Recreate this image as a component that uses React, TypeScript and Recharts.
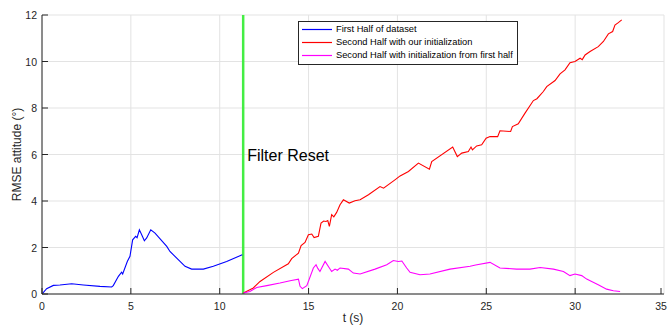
import React from "react";
import {
  LineChart,
  Line,
  XAxis,
  YAxis,
  CartesianGrid,
  ReferenceLine,
  Legend,
} from "recharts";

const xTicks = [0, 5, 10, 15, 20, 25, 30, 35];
const yTicks = [0, 2, 4, 6, 8, 10, 12];
const resetTime = 11.32;

// first half (blue)
const blueT = [0, 0.26, 0.64, 1.01, 1.67, 2.33, 3.26, 3.92, 4.01, 4.3, 4.48, 4.54, 4.8, 4.95, 5.1, 5.27, 5.35, 5.48, 5.61, 5.76, 5.89, 6.12, 6.36, 7.02, 7.2, 8.05, 8.42, 9.08, 9.64, 10.39, 11.27];
const blueV = [0, 0.23, 0.37, 0.39, 0.44, 0.39, 0.33, 0.3, 0.36, 0.76, 0.94, 0.86, 1.4, 1.62, 2.33, 2.48, 2.42, 2.76, 2.55, 2.29, 2.41, 2.76, 2.62, 2.05, 1.83, 1.19, 1.07, 1.07, 1.19, 1.4, 1.69];

// second half, our init (red)
const redT = [11.33, 11.61, 11.89, 12.27, 13.02, 13.86, 14.05, 14.43, 14.58, 14.8, 14.99, 15.18, 15.31, 15.55, 15.7, 15.85, 15.98, 16.08, 16.17, 16.3, 16.42, 16.58, 16.77, 16.96, 17.29, 17.61, 17.9, 18.37, 19.02, 19.22, 19.86, 20.15, 20.62, 21.18, 21.8, 21.93, 23.11, 23.37, 23.62, 23.99, 24.14, 24.22, 24.46, 24.74, 24.99, 25.21, 25.64, 25.77, 26.37, 26.47, 26.8, 27.18, 27.65, 27.85, 28.21, 28.4, 28.87, 29.15, 29.43, 29.71, 29.99, 30.28, 30.4, 30.56, 30.84, 31.3, 31.59, 31.87, 32.11, 32.24, 32.43, 32.62];
const redV = [0.04, 0.15, 0.26, 0.54, 0.93, 1.3, 1.52, 1.76, 2.08, 2.22, 2.55, 2.58, 2.43, 2.48, 3.05, 3.14, 3.12, 3.16, 2.91, 3.41, 3.32, 3.51, 3.84, 4.05, 3.91, 4.01, 4.05, 4.27, 4.62, 4.55, 4.91, 5.08, 5.27, 5.63, 5.37, 5.7, 6.32, 5.91, 6.06, 6.13, 6.32, 6.2, 6.37, 6.42, 6.7, 6.77, 6.77, 7.02, 6.99, 7.2, 7.32, 7.78, 8.32, 8.4, 8.71, 8.92, 9.18, 9.47, 9.64, 9.95, 10.0, 10.14, 10.08, 10.28, 10.43, 10.64, 10.86, 11.19, 11.29, 11.57, 11.67, 11.79];

// second half, init from first half (magenta)
const magT = [11.33, 11.7, 12.08, 12.65, 13.39, 13.96, 14.43, 14.52, 14.65, 14.9, 15.27, 15.42, 15.52, 15.64, 15.93, 16.17, 16.3, 16.49, 16.62, 16.77, 17.24, 17.52, 17.9, 18.74, 19.4, 19.77, 20.05, 20.25, 20.52, 20.71, 21.27, 21.83, 22.96, 24.09, 24.4, 25.21, 25.77, 26.71, 27.46, 28.03, 28.78, 29.34, 29.71, 29.99, 30.37, 30.65, 30.93, 31.3, 31.77, 32.15, 32.53];
const magV = [0.04, 0.11, 0.28, 0.36, 0.47, 0.57, 0.64, 0.33, 0.23, 0.36, 1.12, 1.26, 1.1, 0.97, 1.4, 1.12, 0.97, 1.07, 1.02, 1.12, 1.07, 0.9, 0.86, 1.07, 1.26, 1.44, 1.4, 1.42, 1.12, 0.93, 0.83, 0.86, 1.07, 1.19, 1.25, 1.36, 1.12, 1.07, 1.07, 1.14, 1.07, 0.97, 0.79, 0.86, 0.79, 0.64, 0.54, 0.4, 0.21, 0.14, 0.11];

const series = [
  { name: "First Half of dataset", color: "#0000ff", t: blueT, v: blueV },
  { name: "Second Half with our initialization", color: "#ff0000", t: redT, v: redV },
  { name: "Second Half with initialization from first half", color: "#ff00ff", t: magT, v: magV },
];

const FONT = "'Liberation Sans', Arial, Helvetica, sans-serif";
const AXIS = "#262626";

const XTick = ({ x, y, payload }: any) => (
  <g>
    <line x1={x} x2={x} y1={y} y2={y - 6} stroke={AXIS} strokeWidth={1} />
    <text x={x} y={y + 16} textAnchor="middle" fill={AXIS} fontSize={10.5} fontFamily={FONT}>
      {payload.value}
    </text>
  </g>
);

const YTick = ({ x, y, payload }: any) => (
  <g>
    <line x1={x} x2={x + 6} y1={y} y2={y} stroke={AXIS} strokeWidth={1} />
    <text x={x - 5} y={y + 4} textAnchor="end" fill={AXIS} fontSize={10.5} fontFamily={FONT}>
      {payload.value}
    </text>
  </g>
);

const LegendBox = () => (
  <div
    style={{
      border: "1px solid #262626",
      background: "#fff",
      padding: "1px 4px 2px 3px",
      fontFamily: FONT,
      fontSize: 9.3,
      color: "#000",
      lineHeight: "13px",
      whiteSpace: "nowrap",
    }}
  >
    {series.map((s) => (
      <div key={s.name} style={{ display: "flex", alignItems: "center" }}>
        <svg width={34} height={13}>
          <line x1={0} x2={30} y1={6.5} y2={6.5} stroke={s.color} strokeWidth={1.2} />
        </svg>
        <span>{s.name}</span>
      </div>
    ))}
  </div>
);

export default function App() {
  return (
    <div style={{ position: "absolute", left: 0, top: 0, background: "#fff" }}>
      <LineChart width={669} height={325} margin={{ top: 15, right: 5, bottom: 0, left: 0 }}>
        <CartesianGrid stroke="#e3e3e3" strokeWidth={1} />
        <XAxis
          type="number"
          dataKey="t"
          domain={[0, 35]}
          ticks={xTicks}
          height={31}
          tickSize={0}
          tickMargin={0}
          tick={<XTick />}
          axisLine={{ stroke: AXIS, strokeWidth: 1 }}
          allowDataOverflow
          label={{
            content: ({ viewBox }: any) => (
              <text
                x={viewBox.x + viewBox.width / 2}
                y={321.5}
                textAnchor="middle"
                fill={AXIS}
                fontSize={12}
                fontFamily={FONT}
              >
                t (s)
              </text>
            ),
          }}
        />
        <YAxis
          type="number"
          domain={[0, 12]}
          ticks={yTicks}
          width={42}
          tickSize={0}
          tickMargin={0}
          tick={<YTick />}
          axisLine={{ stroke: AXIS, strokeWidth: 1 }}
          allowDataOverflow
          label={{
            content: ({ viewBox }: any) => (
              <text
                transform={`translate(21, ${viewBox.y + viewBox.height / 2}) rotate(-90)`}
                textAnchor="middle"
                fill={AXIS}
                fontSize={12}
                fontFamily={FONT}
              >
                RMSE attitude (°)
              </text>
            ),
          }}
        />
        <ReferenceLine
          x={resetTime}
          stroke="#44ee44"
          strokeWidth={2.5}
          label={{
            content: ({ viewBox }: any) => (
              <text x={viewBox.x + 4} y={161} fill="#000" fontSize={16} fontFamily={FONT}>
                Filter Reset
              </text>
            ),
          }}
        />
        {series.map((s) => (
          <Line
            key={s.name}
            name={s.name}
            data={s.t.map((t, i) => ({ t, v: s.v[i] }))}
            dataKey="v"
            type="linear"
            stroke={s.color}
            strokeWidth={1.1}
            dot={false}
            isAnimationActive={false}
          />
        ))}
        <Legend
          layout="vertical"
          align="center"
          verticalAlign="middle"
          content={<LegendBox />}
          wrapperStyle={{ left: 298, top: 21, width: "auto", height: "auto" }}
        />
      </LineChart>
    </div>
  );
}
